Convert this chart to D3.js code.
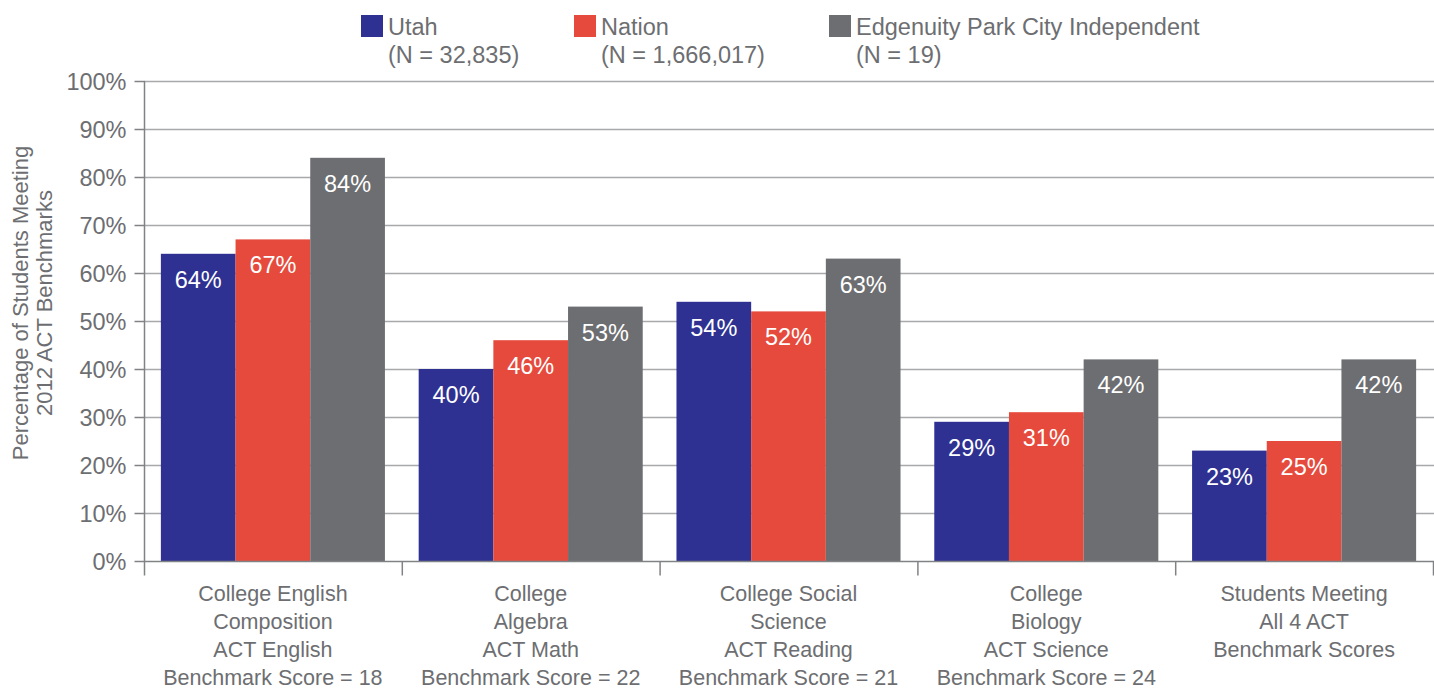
<!DOCTYPE html>
<html><head><meta charset="utf-8">
<script src="https://cdn.jsdelivr.net/npm/d3@7"></script>
<style>
html,body{margin:0;padding:0;background:#fff;}
svg{display:block;}
</style></head>
<body>
<svg id="chart" width="1434" height="690"></svg>
<script>
const categories = [
  ["College English","Composition","ACT English","Benchmark Score = 18"],
  ["College","Algebra","ACT Math","Benchmark Score = 22"],
  ["College Social","Science","ACT Reading","Benchmark Score = 21"],
  ["College","Biology","ACT Science","Benchmark Score = 24"],
  ["Students Meeting","All 4 ACT","Benchmark Scores"]
];
const seriesNames = ["Utah","Nation","Edgenuity Park City Independent"];
const seriesN = ["(N = 32,835)","(N = 1,666,017)","(N = 19)"];
const utah = [64,40,54,29,23];
const nation = [67,46,52,31,25];
const edgenuity = [84,53,63,42,42];
const yTicks = [0,10,20,30,40,50,60,70,80,90,100];
const colors = ["#2e3192","#e64a3c","#6d6e71"];
const yTitle = ["Percentage of Students Meeting","2012 ACT Benchmarks"];

const values = [utah, nation, edgenuity];
const font = "'Liberation Sans', Arial, sans-serif";
const textColor = "#6d6e71";
const svg = d3.select("#chart");
const m = {left:144, right:1433, top:81, bottom:561};

const x0 = d3.scaleBand().domain(d3.range(categories.length)).range([m.left, m.right]).paddingInner(0).paddingOuter(0);
const x1 = d3.scaleBand().domain(d3.range(seriesNames.length)).range([0, x0.bandwidth()]).paddingInner(0).paddingOuter(0.226);
const y = d3.scaleLinear().domain([0,100]).range([m.bottom, m.top]);

// gridlines
svg.append("g").selectAll("line").data(yTicks.filter(d=>d>0)).join("line")
  .attr("x1", m.left).attr("x2", 1434)
  .attr("y1", d=>y(d)+0.5).attr("y2", d=>y(d)+0.5)
  .attr("stroke","#a7a9ac").attr("stroke-width",1.3);

// bars
const groups = svg.append("g").selectAll("g").data(categories).join("g")
  .attr("transform",(d,i)=>`translate(${x0(i)},0)`);
groups.each(function(c,i){
  const g = d3.select(this);
  seriesNames.forEach((s,j)=>{
    const v = values[j][i];
    g.append("rect").attr("x", x1(j)).attr("width", x1.bandwidth())
      .attr("y", y(v)).attr("height", y(0)-y(v)).attr("fill", colors[j]);
    g.append("text").attr("x", x1(j)+x1.bandwidth()/2).attr("y", y(v)+34)
      .attr("text-anchor","middle").attr("fill","#fff")
      .style("font-family",font).style("font-size","23.5px").text(v+"%");
  });
});

// y axis
const yAxis = d3.axisLeft(y).tickValues(yTicks).tickFormat(d=>d+"%").tickSize(10).tickPadding(8);
const ya = svg.append("g").attr("transform",`translate(${m.left+0.5},0)`).call(yAxis);
ya.select(".domain").attr("stroke","#808285").attr("stroke-width",1.5).attr("d",`M0,${m.top}V${m.bottom}`);
ya.selectAll(".tick line").attr("stroke","#808285").attr("stroke-width",1.5);
ya.selectAll(".tick text").attr("fill",textColor).style("font-family",font).style("font-size","23.5px").attr("dy","0.36em");

// x axis
const xa = svg.append("g").attr("transform",`translate(0,${m.bottom+0.5})`);
xa.append("line").attr("x1",m.left).attr("x2",1434).attr("stroke","#808285").attr("stroke-width",1.5);
const bounds = d3.range(categories.length+1).map(i=> i<categories.length ? x0(i) : x0(i-1)+x0.bandwidth());
xa.selectAll("line.t").data(bounds).join("line").attr("class","t")
  .attr("x1",d=>d+0.5).attr("x2",d=>d+0.5).attr("y1",0).attr("y2",14)
  .attr("stroke","#808285").attr("stroke-width",1.5);
categories.forEach((lines,i)=>{
  const t = svg.append("text").attr("text-anchor","middle").attr("fill",textColor)
    .style("font-family",font).style("font-size","21.5px");
  lines.forEach((l,k)=>{
    t.append("tspan").attr("x", x0(i)+x0.bandwidth()/2).attr("y", 601+k*28).text(l);
  });
});

// y title
const yt = svg.append("text").attr("transform","translate(28,303) rotate(-90)")
  .attr("text-anchor","middle").attr("fill",textColor).style("font-family",font).style("font-size","22px");
yTitle.forEach((l,k)=>yt.append("tspan").attr("x",0).attr("y",k*24).text(l));

// legend
const legX = [361, 574, 829];
seriesNames.forEach((s,j)=>{
  svg.append("rect").attr("x",legX[j]).attr("y",15).attr("width",22).attr("height",22).attr("fill",colors[j]);
  const t = svg.append("text").attr("fill",textColor).style("font-family",font).style("font-size","23.5px");
  t.append("tspan").attr("x",legX[j]+27).attr("y",35).text(s);
  t.append("tspan").attr("x",legX[j]+27).attr("y",63).text(seriesN[j]);
});
</script>
</body></html>
